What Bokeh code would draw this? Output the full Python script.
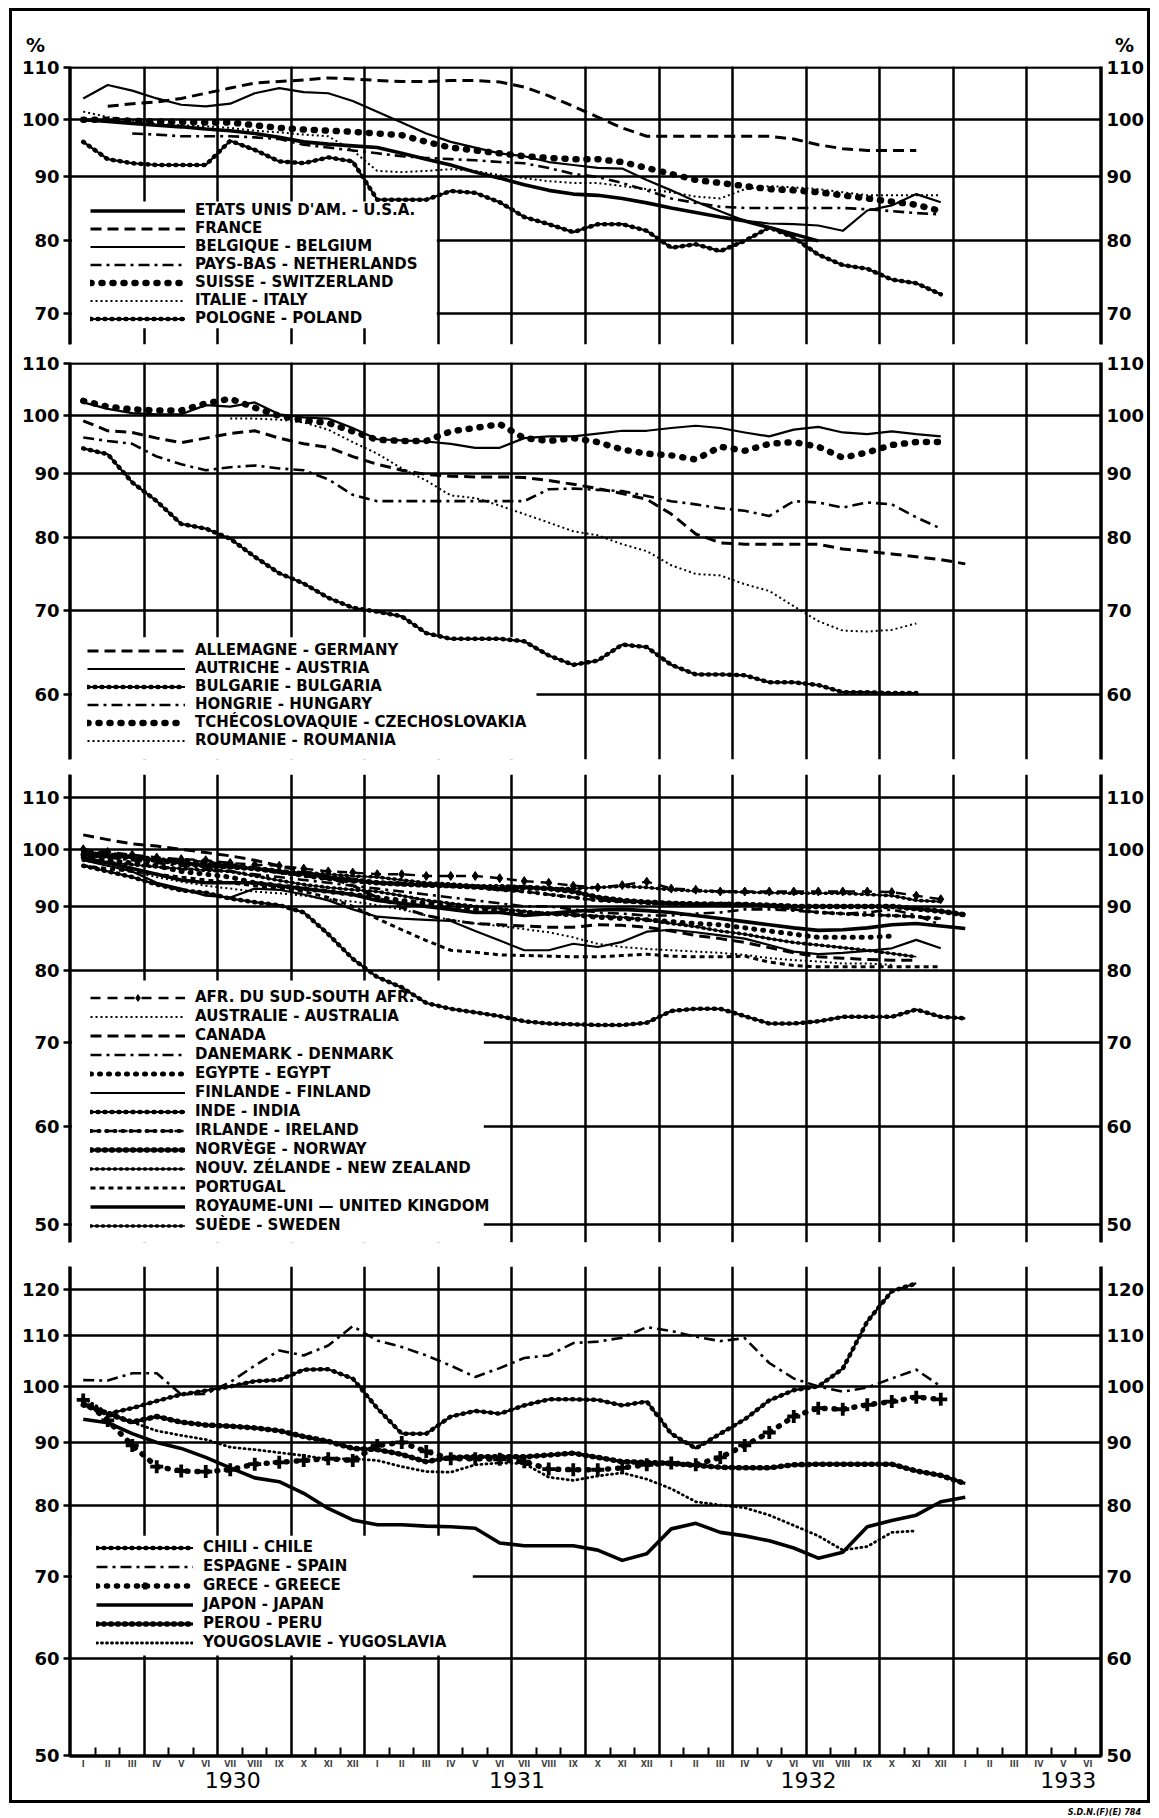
import math
from bokeh.plotting import figure
from bokeh.models import (Range1d, FixedTicker, LogAxis, LinearAxis, NumeralTickFormatter,
                          CustomJSTickFormatter, Legend, LegendItem, BoxAnnotation, Div,
                          ColumnDataSource)
from bokeh.layouts import column
from bokeh.embed import file_html
from bokeh.resources import INLINE

# ---------------------------------------------------------------- data
month_labels = ["I", "II", "III", "IV", "V", "VI", "VII", "VIII", "IX", "X", "XI", "XII"]
year_labels = ["1930", "1931", "1932", "1933"]
year_ticks = [6.6, 18.2, 30.1, 40.7]
grid_months = list(range(0, 43, 3))      # Jan 1930 ... Jun 1933, every 3 months
N_POINTS = 37                            # monthly values Jan 1930 - Jan 1933

# panel 1
usa = [100, 99.7, 99.3, 99.0, 98.7, 98.3, 98.0, 97.5, 96.8, 96.0, 95.6, 95.3, 95.0, 94.0, 93.0,
       92.0, 90.8, 89.8, 88.7, 87.8, 87.2, 87.0, 86.5, 85.8, 85.0, 84.3, 83.6, 83.0, 82.0, 81.0, 80.0]
france = [None, 102.5, 103, 103.3, 104, 105, 106, 107, 107.3, 107.6, 108, 107.8, 107.5, 107.3,
          107.3, 107.5, 107.5, 107.2, 106.2, 104.5, 102.5, 100.5, 98.5, 97, 97, 97, 97, 97, 97,
          96.5, 95.5, 94.8, 94.5, 94.5, 94.5]
belgium = [104, 106.6, 105.5, 104, 102.8, 102.5, 103, 105, 106, 105.2, 105, 103.5, 101.5, 99.5,
           97.5, 96, 95, 94, 93.5, 92.5, 92, 91.5, 91.4, 89.5, 87.8, 86, 84.5, 83, 82.6, 82.5,
           82.3, 81.5, 84.6, 85.4, 87.2, 85.9]
netherlands = [None, None, 97.5, 97.3, 97, 97, 97, 96.8, 96.5, 95.5, 95, 94.5, 94, 93.5, 93.2,
               93, 92.8, 92.5, 92.3, 91.5, 90.5, 90, 89, 87.8, 86.5, 85.8, 85.2, 85, 85, 85, 85,
               85, 84.8, 84.5, 84.2, 84]
switzerland = [100, 100, 99.8, 99.7, 99.6, 99.5, 99.5, 99, 98.5, 98.2, 98, 97.8, 97.5, 97.2, 96,
               95, 94.5, 94, 93.5, 93.2, 93, 93, 92.5, 91.5, 90.5, 89.5, 89, 88.5, 88, 87.8,
               87.5, 87, 86.5, 86, 85.5, 84.5]
italy = [101.5, 100.5, 99.8, 99.3, 99, 98.8, 98.5, 98, 97.7, 97.3, 97, 94.5, 91, 90.8, 91, 91.3,
         91, 90.3, 89.8, 89.3, 89, 89, 88.5, 88, 87.5, 86.8, 86.5, 88, 88.5, 88.3, 88, 87.5, 87,
         87, 87, 87]
poland = [96, 93, 92.3, 92, 92, 92, 96.2, 94.6, 92.6, 92.3, 93.3, 92.6, 86.3, 86.3, 86.3, 87.7,
          87.4, 85.9, 83.6, 82.5, 81.3, 82.5, 82.5, 81.5, 79, 79.5, 78.5, 80, 82, 80.5, 78, 76.5,
          76, 74.5, 74, 72.5]

# panel 2
germany = [99.1, 97.3, 97, 96, 95.2, 96, 96.8, 97.3, 96, 95, 94.4, 92.8, 91.5, 90.5, 89.8, 89.5,
           89.4, 89.4, 89.3, 88.8, 88.2, 87.5, 86.7, 85.8, 83.5, 80.5, 79.2, 79, 79, 79, 79,
           78.3, 78, 77.6, 77.2, 76.8, 76.2]
austria = [102.5, 101.3, 100.5, 100.3, 100.3, 102, 101.7, 102.5, 100.3, 99.7, 99.5, 97.8, 95.8,
           95.6, 95.4, 95, 94.3, 94.3, 96, 96.3, 96.3, 96.8, 97.3, 97.3, 97.8, 98.2, 97.8, 97,
           96.3, 97.5, 98, 97, 96.7, 97.2, 96.7, 96.3]
bulgaria = [94.2, 93.2, 88.5, 85.5, 82, 81.3, 79.8, 77.2, 74.9, 73.5, 71.6, 70.3, 69.8, 69.2,
            67.1, 66.4, 66.4, 66.4, 66.1, 64.4, 63.3, 63.8, 65.7, 65.4, 63.3, 62.2, 62.2, 62.1,
            61.3, 61.3, 61.0, 60.2, 60.2, 60.1, 60.1]
hungary = [96.1, 95.5, 95, 92.8, 91.5, 90.5, 91, 91.3, 90.8, 90.5, 89, 86.5, 85.5, 85.5, 85.5,
           85.5, 85.5, 85.5, 85.5, 87.4, 87.5, 87.3, 87.1, 86.3, 85.5, 85, 84.4, 84, 83.2, 85.5,
           85.3, 84.5, 85.3, 85, 83, 81.3]
czechoslovakia = [102.8, 101.7, 101.2, 101, 101, 102.3, 103.2, 101.5, 100, 99.2, 98.7, 97.2, 95.7,
                  95.5, 95.5, 97.2, 97.8, 98.5, 96, 95.5, 96, 95.3, 94, 93.3, 93, 92.3, 94.5,
                  93.8, 95, 95.3, 94.5, 92.6, 93.5, 94.8, 95.3, 95.3]
roumania = [None, None, None, None, None, None, 99.5, 99.5, 99.3, 98.8, 97.5, 95.3, 93.3, 90.8,
            88.8, 86.4, 86, 84.8, 83.5, 82.2, 80.9, 80.3, 79, 78, 76, 74.8, 74.6, 73.4, 72.5,
            70.5, 68.6, 67.4, 67.3, 67.5, 68.3]

# panel 3
south_africa = [100, 99.5, 99, 98.5, 98.2, 98, 97.5, 97.2, 97, 96.5, 96, 95.8, 95.5, 95.5, 95.2,
                95.2, 95.2, 94.8, 94.3, 94, 93.5, 93.2, 93.6, 94.2, 93, 92.8, 92.5, 92.5, 92.5,
                92.5, 92.5, 92.5, 92.5, 92.4, 91.8, 91.2]
australia = [98.1, 97, 96, 95, 94.2, 93.5, 93, 92.5, 92.2, 91.8, 91.2, 90.8, 90.2, 89.5, 88.5,
             87.8, 87.2, 86.8, 86.3, 85.8, 85, 84, 83.5, 83.2, 83, 82.8, 82.6, 82.3, 81.8, 81.5,
             81.3, 81, 81, 80.8]
canada = [102.7, 101.8, 101, 100.6, 100, 99.4, 98.8, 98, 97, 96, 95, 93.5, 91.5, 89.8, 88.5,
          87.7, 87.2, 87, 86.8, 86.6, 86.6, 87, 86.9, 86.6, 86, 85.3, 84.8, 84.2, 83.4, 82.6, 82,
          81.8, 81.6, 81.5, 81.5]
denmark = [99, 98.5, 98, 97.5, 97, 96.5, 96, 95.5, 95, 94.5, 94, 93.5, 93, 92.5, 92, 91.5, 91,
           90.5, 90, 90, 89.5, 89, 88.8, 88.5, 88.5, 88.8, 89, 89.5, 89.5, 89.3, 89, 88.8, 89,
           89.5, 88.5, 87]
egypt = [98.5, 98, 97.5, 97, 96, 95.5, 95, 94, 93.5, 93, 92.5, 92, 91.5, 91, 90.5, 90, 89.5,
         89.3, 89, 88.8, 88.6, 88.2, 88, 87.8, 87.5, 87.2, 87, 86.5, 86, 85.5, 85, 85, 85, 85.2]
finland = [98, 97, 96, 94, 93, 91.8, 91.5, 93, 92.8, 92, 91, 89.5, 88.3, 88, 87.8, 87.6, 86, 84.5,
           83, 83, 84, 83.5, 84.3, 85.9, 86.2, 85.8, 85.3, 84.8, 83.8, 82.8, 82.4, 82.6, 82.9,
           83.3, 84.6, 83.3]
india = [97, 96, 95, 93.7, 92.7, 92.3, 91.3, 90.7, 90.2, 89, 85.5, 81.7, 79, 77.5, 75.3, 74.5, 74,
         73.5, 72.8, 72.5, 72.4, 72.3, 72.3, 72.6, 74.2, 74.5, 74.5, 73.5, 72.5, 72.5, 72.8, 73.4,
         73.4, 73.4, 74.4, 73.4, 73.2]
ireland = [99.5, 99.2, 98.8, 98.2, 98, 97.7, 97.2, 96.5, 95.8, 95.2, 94.6, 94.2, 94, 93.8, 93.6,
           93.5, 93.2, 92.8, 92.5, 92, 91.5, 91, 90.8, 90.6, 90.5, 90.5, 90.5, 90.4, 90, 89.5, 89,
           88.8, 88.6, 88.5, 88.3, 88]
norway = [99, 98.8, 98.5, 98, 97.5, 97, 96.8, 96.5, 96, 95.5, 95, 94.5, 94, 93.8, 93.6, 93.5,
          93.3, 93, 93.2, 93, 92.5, 91.5, 91, 90.7, 90.5, 90.4, 90.3, 90.3, 90.2, 90, 90, 90, 90,
          90, 89.6, 89.2, 88.6]
new_zealand = [98, 97.6, 97.2, 96.8, 96.5, 96.2, 96, 95.2, 94.4, 93.7, 93.2, 92.8, 92.5, 91.8, 91,
               90.5, 90, 89.6, 89.2, 88.8, 88.6, 88.4, 88.2, 87.8, 87.2, 86.7, 86, 85.5, 84.8,
               84.2, 83.8, 83.4, 83, 82.5, 82]
portugal = [97, 96.5, 96, 95.5, 95, 94.5, 94, 93.5, 93, 92.5, 91.5, 90, 88, 86.2, 84.5, 83, 82.7,
            82.3, 82.2, 82.1, 82, 82, 82.2, 82.4, 82.1, 82, 82, 82.1, 81.2, 80.7, 80.5, 80.5,
            80.5, 80.5, 80.5, 80.5]
united_kingdom = [98.5, 97.5, 96.5, 95.5, 94.5, 94, 94, 94, 93.5, 93, 92.5, 92, 91, 90.5, 90,
                  89.5, 89, 89, 88.5, 88.8, 89.2, 89.4, 89.5, 89.3, 89, 88.5, 88, 87.5, 87, 86.5,
                  86.1, 86.2, 86.5, 87, 87.2, 86.8, 86.4]
sweden = [99.5, 99, 98.5, 98, 97.5, 97.2, 97, 96.5, 96, 95.8, 95.5, 95.2, 95, 94.5, 94, 93.8,
          93.5, 93.5, 93.3, 93, 93, 93.2, 93.4, 93.2, 92.8, 92.6, 92.5, 92.4, 92.3, 92.2, 92.2,
          92.2, 92, 91.8, 91, 90.8]

# panel 4
chile = [97, 95, 96, 97.3, 98.5, 99.2, 100, 101, 101.2, 103.2, 103.3, 101.5, 96, 91.5, 91.5, 94.5,
         95.5, 95, 96.5, 97.6, 97.6, 97.5, 96.5, 97.2, 91.5, 89, 91.5, 94, 97.4, 99.3, 100, 103.4,
         113, 119.6, 121.4]
spain = [101.2, 101.1, 102.5, 102.5, 98.5, 98.6, 100.8, 104, 107, 106, 108, 112, 109, 107.7, 106,
         104, 101.8, 103.5, 105.5, 106, 108.5, 108.8, 109.6, 111.8, 111, 109.8, 108.9, 109.5,
         104.5, 101.5, 100, 99, 99.8, 101.5, 103.2, 100]
greece = [97.5, 93.8, 89.5, 86, 85.3, 85.2, 85.5, 86.4, 86.7, 87, 87.3, 87, 89.5, 90, 88.5, 87.3,
          87.3, 87.2, 86.8, 85.6, 85.5, 85.5, 85.8, 86.3, 86.6, 86.3, 87.5, 89.5, 91.7, 94.5, 96,
          95.8, 96.6, 97.2, 98, 97.6]
japan = [94, 93.4, 91.5, 90, 89, 87.5, 85.8, 84.2, 83.6, 81.8, 79.5, 77.8, 77.1, 77.1, 76.9, 76.8,
         76.6, 74.5, 74.1, 74.1, 74.1, 73.5, 72.1, 73, 76.5, 77.3, 76, 75.5, 74.8, 73.8, 72.4,
         73.2, 76.8, 77.7, 78.5, 80.5, 81.2]
peru = [96.6, 95, 93.5, 94.5, 93.5, 93, 92.8, 92.5, 92, 91, 90.2, 89, 88.8, 88, 86.8, 87.5, 87.6,
        87.6, 87.6, 87.9, 88.2, 87.5, 86.8, 86.7, 86.5, 86.2, 85.9, 85.8, 85.8, 86.3, 86.4, 86.4,
        86.4, 86.4, 85.3, 84.6, 83.3]
yugoslavia = [97.8, 95.2, 93.5, 92, 91.2, 90.5, 89.2, 88.8, 88.3, 87.8, 87.2, 87.3, 87, 86, 85.2,
              85.1, 86.3, 86.6, 86.5, 84.3, 83.8, 84.5, 85, 84, 82.5, 80.5, 80, 79.6, 78.5, 77,
              75.5, 73.5, 74, 76, 76.2]

panel1 = [("ETATS UNIS D'AM. - U.S.A.", usa, "thick"),
          ("FRANCE", france, "dash"),
          ("BELGIQUE - BELGIUM", belgium, "solid"),
          ("PAYS-BAS - NETHERLANDS", netherlands, "dashdot"),
          ("SUISSE - SWITZERLAND", switzerland, "diamonds"),
          ("ITALIE - ITALY", italy, "dotted"),
          ("POLOGNE - POLAND", poland, "beaded")]
panel2 = [("ALLEMAGNE - GERMANY", germany, "dash"),
          ("AUTRICHE - AUSTRIA", austria, "solid"),
          ("BULGARIE - BULGARIA", bulgaria, "beaded"),
          ("HONGRIE - HUNGARY", hungary, "dashdot"),
          ("TCHÉCOSLOVAQUIE - CZECHOSLOVAKIA", czechoslovakia, "diamonds"),
          ("ROUMANIE - ROUMANIA", roumania, "dotted")]
panel3 = [("AFR. DU SUD-SOUTH AFR.", south_africa, "dashdiamond"),
          ("AUSTRALIE - AUSTRALIA", australia, "dotted"),
          ("CANADA", canada, "dash"),
          ("DANEMARK - DENMARK", denmark, "dashdot"),
          ("EGYPTE - EGYPT", egypt, "dots"),
          ("FINLANDE - FINLAND", finland, "solid"),
          ("INDE - INDIA", india, "beaded"),
          ("IRLANDE - IRELAND", ireland, "dashbeaded"),
          ("NORVÈGE - NORWAY", norway, "thickbeaded"),
          ("NOUV. ZÉLANDE - NEW ZEALAND", new_zealand, "thinbeaded"),
          ("PORTUGAL", portugal, "shortdash"),
          ("ROYAUME-UNI — UNITED KINGDOM", united_kingdom, "thick"),
          ("SUÈDE - SWEDEN", sweden, "thinbeaded")]
panel4 = [("CHILI - CHILE", chile, "beaded"),
          ("ESPAGNE - SPAIN", spain, "dashdot"),
          ("GRECE - GREECE", greece, "crosses"),
          ("JAPON - JAPAN", japan, "thick"),
          ("PEROU - PERU", peru, "thickbeaded"),
          ("YOUGOSLAVIE - YUGOSLAVIA", yugoslavia, "finedots")]

# ---------------------------------------------------------------- styles
STYLES = {
    "thick": [dict(kind="line", line_width=3.6)],
    "solid": [dict(kind="line", line_width=2.2)],
    "dash": [dict(kind="line", line_width=3, line_dash="11 6")],
    "dashdot": [dict(kind="line", line_width=2.6, line_dash="11 5 3 5")],
    "dotted": [dict(kind="line", line_width=2, line_dash="2 3")],
    "diamonds": [dict(kind="line", line_width=6.5, line_dash="1 10", line_cap="round")],
    "beaded": [dict(kind="line", line_width=2.2),
               dict(kind="line", line_width=4.5, line_dash="1 6", line_cap="round")],
    "thickbeaded": [dict(kind="line", line_width=3.2),
                    dict(kind="line", line_width=5.5, line_dash="1 6", line_cap="round")],
    "thinbeaded": [dict(kind="line", line_width=1.6),
                   dict(kind="line", line_width=3.6, line_dash="1 5", line_cap="round")],
    "dashbeaded": [dict(kind="line", line_width=2.4, line_dash="9 5"),
                   dict(kind="line", line_width=4, line_dash="1 7", line_cap="round")],
    "dashdiamond": [dict(kind="line", line_width=2.4, line_dash="10 7"),
                    dict(kind="diamond", size=9)],
    "shortdash": [dict(kind="line", line_width=3, line_dash="5 4")],
    "dots": [dict(kind="line", line_width=5, line_dash="1 8", line_cap="round")],
    "crosses": [dict(kind="line", line_width=5.5, line_dash="1 9", line_cap="round"),
                dict(kind="cross", size=13, line_width=3.8)],
    "finedots": [dict(kind="line", line_width=2.8, line_dash="1 4", line_cap="round")],
}

FONT = "DejaVu Sans"
W = 1135          # figure width (content box of the framed column)
LEFT = 57         # frame starts 57 px into each figure
RIGHT = 46
LW = 2.5
X0, X1 = -0.06, 42.06


def pad(values):
    v = list(values)
    return v + [None] * (N_POINTS - len(v))


def draw_series(p, values, style):
    vals = pad(values)
    src = ColumnDataSource(dict(
        x=[m + 0.5 for m in range(N_POINTS)],
        y=[float("nan") if v is None else float(v) for v in vals]))
    rs = []
    for spec in STYLES[style]:
        kw = {k: v for k, v in spec.items() if k != "kind"}
        if spec["kind"] == "line":
            rs.append(p.line("x", "y", source=src, line_color="black", line_join="round", **kw))
        else:
            rs.append(p.scatter("x", "y", source=src, marker=spec["kind"], line_color="black",
                                fill_color="black", **kw))
    return rs


def no_axis_label(ax):
    ax.axis_label = None
    ax.axis_label_standoff = 0
    ax.axis_label_text_font_size = "0px"


def make_panel(height, lo, hi, ticks, top_bottom, series, legend_loc, glyph_w, row_gap,
               box, xaxis=False):
    bt, bb = top_bottom
    p = figure(width=W, height=height, x_range=Range1d(X0, X1), y_range=Range1d(lo, hi),
               y_axis_type="log", x_axis_location="below" if xaxis else None,
               output_backend="svg", toolbar_location=None,
               min_border_left=LEFT, min_border_right=RIGHT, min_border_top=bt,
               min_border_bottom=bb, outline_line_color=None,
               background_fill_color="white", border_fill_color="white")
    p.xgrid.ticker = FixedTicker(ticks=grid_months)
    p.ygrid.ticker = FixedTicker(ticks=ticks)
    for g in (p.xgrid[0], p.ygrid[0]):
        g.grid_line_color = "black"
        g.grid_line_width = LW
        g.grid_line_alpha = 1

    # white legend area hiding the grid (drawn under the curves)
    bx_right, bx_top, bx_bottom = box
    p.add_layout(BoxAnnotation(left=0.04, right=bx_right, top=bx_top, bottom=bx_bottom,
                               fill_color="white", fill_alpha=1, line_alpha=0,
                               level="underlay"))

    left = p.yaxis[0]
    right = LogAxis()
    p.add_layout(right, "right")
    for ax, side in ((left, "left"), (right, "right")):
        ax.ticker = FixedTicker(ticks=ticks)
        ax.formatter = NumeralTickFormatter(format="0")
        ax.major_label_text_font = FONT
        ax.major_label_text_font_style = "bold"
        ax.major_label_text_font_size = "18px"
        ax.major_label_text_color = "black"
        ax.axis_line_width = LW
        ax.axis_line_color = "black"
        ax.major_tick_line_width = LW
        ax.major_tick_line_color = "black"
        ax.major_tick_in = 0
        ax.major_tick_out = 6 if side == "left" else 0
        ax.minor_tick_in = 0
        ax.minor_tick_out = 0
        ax.minor_tick_line_color = None
        ax.major_label_standoff = 4 if side == "left" else 5
        no_axis_label(ax)

    items = []
    for label, values, style in series:
        rs = draw_series(p, values, style)
        items.append(LegendItem(label=label, renderers=rs))
    leg = Legend(items=items, location=legend_loc, orientation="vertical",
                 glyph_width=glyph_w, glyph_height=17, label_height=17,
                 spacing=row_gap, padding=0, margin=0, label_standoff=10,
                 background_fill_alpha=0, border_line_alpha=0,
                 label_text_font=FONT, label_text_font_style="bold",
                 label_text_font_size="15px", label_text_color="black")
    p.add_layout(leg)
    return p


# header strip carrying the "%" signs
HEADER_H = 43
pct_style = ("position:absolute;top:26px;font-family:'DejaVu Sans';font-weight:bold;"
             "font-size:19px;line-height:17px;color:black;")
header_html = (f'<div style="position:relative;width:{W}px;height:{HEADER_H}px;">'
               f'<span style="{pct_style}left:14px;">%</span>'
               f'<span style="{pct_style}left:1103px;">%</span></div>')
head = Div(text=header_html, width=W, height=HEADER_H, margin=(0, 0, 0, 0))

# panel 1
p1 = make_panel(299, 66.1, 110.3, [70, 80, 90, 100, 110], (12, 9), panel1,
                (21, 17), 95, 0, (14.93, 86.0, 68.1))
# panel 2
p2 = make_panel(413, 53.2, 110.3, [60, 70, 80, 90, 100, 110], (9, 7), panel2,
                (18, 10), 98, 0, (19.0, 66.6, 53.2))
# panel 3
p3 = make_panel(484, 48.4, 114.8, [50, 60, 70, 80, 90, 100, 110], (8, 8), panel3,
                (21, 8), 95, 1, (16.85, 78.5, 48.4))
# panel 4
p4 = make_panel(550, 49.86, 125.3, [50, 60, 70, 80, 90, 100, 110, 120], (16, 44),
                panel4, (27, 105), 97, 1, (16.4, 75.5, 60.3), xaxis=True)
xa = p4.xaxis[0]
xa.ticker = FixedTicker(ticks=[m + 0.5 for m in range(42)],
                        minor_ticks=[m for m in range(1, 42) if m % 3 != 0])
xa.formatter = CustomJSTickFormatter(args=dict(labels=month_labels),
                                     code="return labels[Math.floor(tick) % 12];")
xa.major_tick_line_color = None
xa.major_tick_in = 0
xa.major_tick_out = 0
xa.minor_tick_in = 9
xa.minor_tick_out = 0
xa.minor_tick_line_width = 2
xa.minor_tick_line_color = "black"
xa.axis_line_width = LW
xa.axis_line_color = "black"
xa.major_label_text_font = FONT
xa.major_label_text_font_style = "bold"
xa.major_label_text_font_size = "8px"
xa.major_label_standoff = 3
no_axis_label(xa)

ya = LinearAxis(ticker=FixedTicker(ticks=year_ticks),
                formatter=CustomJSTickFormatter(args=dict(labels=year_labels),
                                                code="return labels[index];"))
ya.axis_line_color = None
ya.major_tick_line_color = None
ya.major_tick_in = 0
ya.major_tick_out = 0
ya.minor_tick_line_color = None
ya.minor_tick_in = 0
ya.minor_tick_out = 0
ya.major_label_text_font = FONT
ya.major_label_text_font_size = "22px"
ya.major_label_text_color = "black"
ya.major_label_standoff = 0
no_axis_label(ya)
p4.add_layout(ya, "below")

framed = column(head, p1, p2, p3, p4, spacing=0,
                styles={"border": "3px solid black", "margin-left": "9px", "margin-top": "8px"})

footer_html = ("<div style=\"width:1141px;text-align:right;font-family:'DejaVu Sans';"
               "font-weight:bold;font-style:italic;font-size:8px;line-height:10px;\">"
               "S.D.N.(F)(E) 784</div>")
footer = Div(text=footer_html, width=1150, height=11, margin=(0, 0, 0, 0))

layout = column(framed, footer, spacing=0)

open("out.html", "w").write(file_html(layout, INLINE))
